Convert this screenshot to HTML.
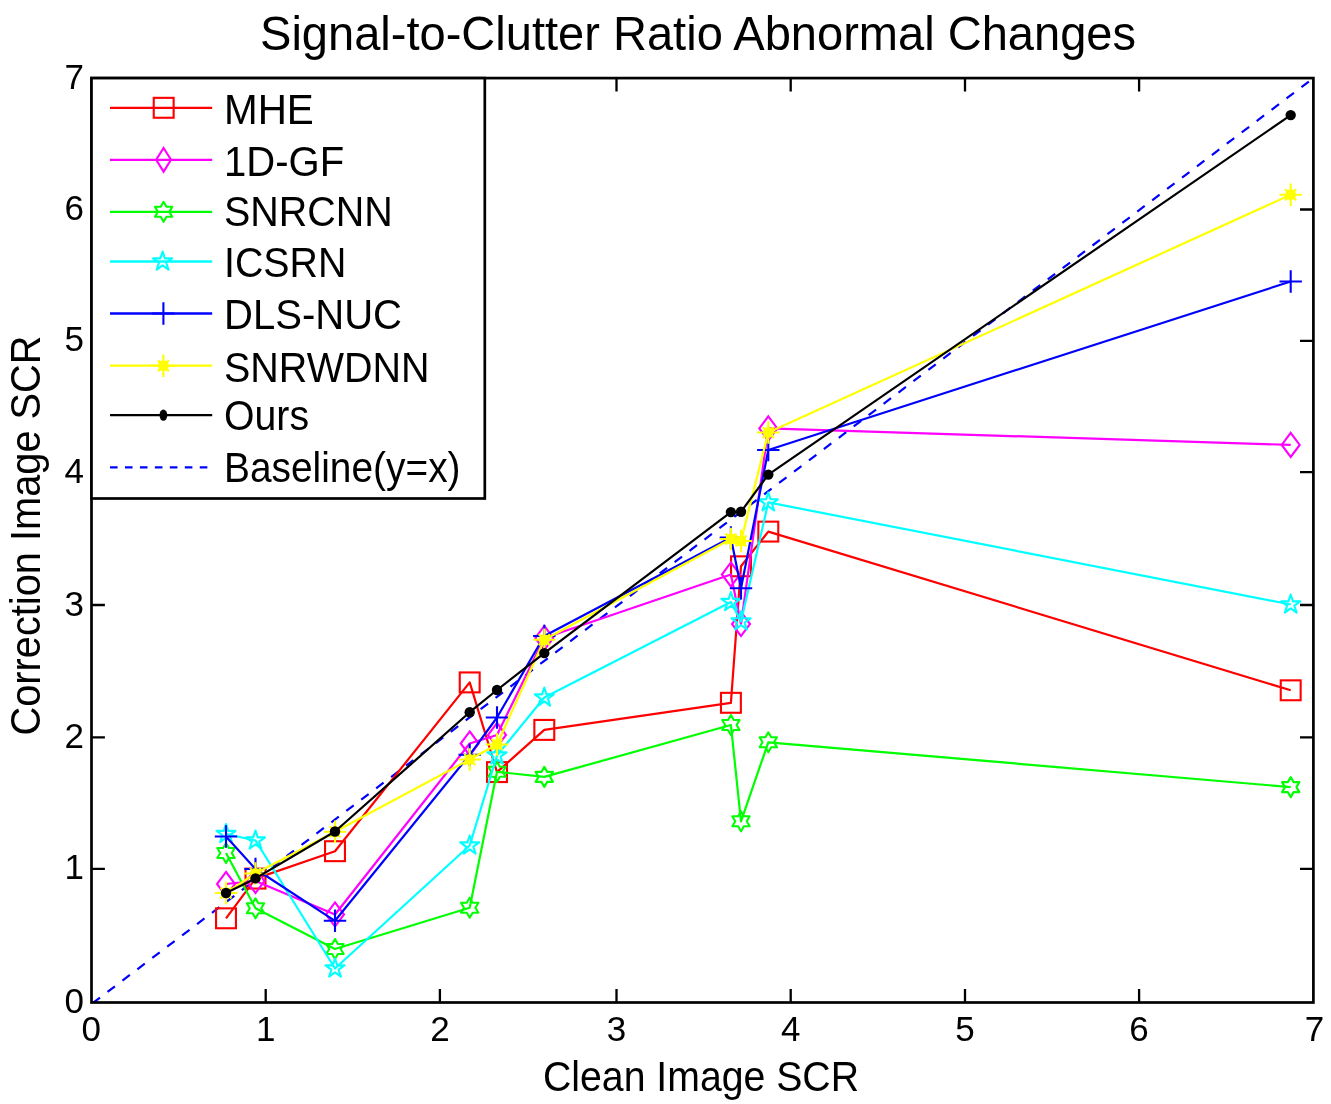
<!DOCTYPE html>
<html><head><meta charset="utf-8"><title>Signal-to-Clutter Ratio Abnormal Changes</title>
<style>
html,body{margin:0;padding:0;background:#fff;width:1331px;height:1104px;overflow:hidden}
svg{display:block}
text{font-family:"Liberation Sans", Arial, Helvetica, sans-serif;fill:#000}
</style></head><body>
<svg width="1331" height="1104" viewBox="0 0 1331 1104">
<rect width="1331" height="1104" fill="#fff"/>
<text x="260" y="50.1" font-size="48" textLength="876" lengthAdjust="spacingAndGlyphs">Signal-to-Clutter Ratio Abnormal Changes</text>
<text x="543" y="1090.6" font-size="42.5" textLength="316" lengthAdjust="spacingAndGlyphs">Clean Image SCR</text>
<text transform="translate(40.3,735.5) rotate(-90)" x="0" y="0" font-size="42.5" textLength="400" lengthAdjust="spacingAndGlyphs">Correction Image SCR</text>
<text x="91.16" y="1041" font-size="35" text-anchor="middle">0</text>
<text x="265.7" y="1041" font-size="35" text-anchor="middle">1</text>
<text x="439.9" y="1041" font-size="35" text-anchor="middle">2</text>
<text x="616.5" y="1041" font-size="35" text-anchor="middle">3</text>
<text x="790.7" y="1041" font-size="35" text-anchor="middle">4</text>
<text x="965" y="1041" font-size="35" text-anchor="middle">5</text>
<text x="1139.1" y="1041" font-size="35" text-anchor="middle">6</text>
<text x="1314.48" y="1041" font-size="35" text-anchor="middle">7</text>
<text x="84" y="1013.2" font-size="35" text-anchor="end">0</text>
<text x="84" y="879.3" font-size="35" text-anchor="end">1</text>
<text x="84" y="748.2" font-size="35" text-anchor="end">2</text>
<text x="84" y="616.3" font-size="35" text-anchor="end">3</text>
<text x="84" y="482.5" font-size="35" text-anchor="end">4</text>
<text x="84" y="351.4" font-size="35" text-anchor="end">5</text>
<text x="84" y="220.3" font-size="35" text-anchor="end">6</text>
<text x="84" y="88.5" font-size="35" text-anchor="end">7</text>
<defs><clipPath id="ax"><rect x="91.5" y="78.1" width="1221.9" height="924.4"/></clipPath></defs>
<g clip-path="url(#ax)"><line x1="92.6" y1="1003.23" x2="1314.5" y2="77.27" stroke="#0000ff" stroke-width="2.2" stroke-dasharray="9.3 9.425"/></g>
<polyline points="226,918.3 255.5,878.6 335,851.2 469.7,682.4 497,772.1 544.3,729.9 730.9,702.8 741,566.3 768.3,531.6 1290.7,690.3" fill="none" stroke="#ff0000" stroke-width="2.2" stroke-linejoin="round"/>
<rect x="216.05" y="908.35" width="19.9" height="19.9" fill="none" stroke="#ff0000" stroke-width="2.1"/>
<rect x="245.55" y="868.65" width="19.9" height="19.9" fill="none" stroke="#ff0000" stroke-width="2.1"/>
<rect x="325.05" y="841.25" width="19.9" height="19.9" fill="none" stroke="#ff0000" stroke-width="2.1"/>
<rect x="459.75" y="672.45" width="19.9" height="19.9" fill="none" stroke="#ff0000" stroke-width="2.1"/>
<rect x="487.05" y="762.15" width="19.9" height="19.9" fill="none" stroke="#ff0000" stroke-width="2.1"/>
<rect x="534.35" y="719.95" width="19.9" height="19.9" fill="none" stroke="#ff0000" stroke-width="2.1"/>
<rect x="720.95" y="692.85" width="19.9" height="19.9" fill="none" stroke="#ff0000" stroke-width="2.1"/>
<rect x="731.05" y="556.35" width="19.9" height="19.9" fill="none" stroke="#ff0000" stroke-width="2.1"/>
<rect x="758.35" y="521.65" width="19.9" height="19.9" fill="none" stroke="#ff0000" stroke-width="2.1"/>
<rect x="1280.75" y="680.35" width="19.9" height="19.9" fill="none" stroke="#ff0000" stroke-width="2.1"/>
<polyline points="226,884 255.5,881 335,914.5 469.7,743.5 497,735 544.3,638 730.9,574.5 741,624 768.3,428.4 1290.7,444.9" fill="none" stroke="#ff00ff" stroke-width="2.2" stroke-linejoin="round"/>
<polygon points="226,871.9 235,884 226,896.1 217,884" fill="none" stroke="#ff00ff" stroke-width="2.1"/>
<polygon points="255.5,868.9 264.5,881 255.5,893.1 246.5,881" fill="none" stroke="#ff00ff" stroke-width="2.1"/>
<polygon points="335,902.4 344,914.5 335,926.6 326,914.5" fill="none" stroke="#ff00ff" stroke-width="2.1"/>
<polygon points="469.7,731.4 478.7,743.5 469.7,755.6 460.7,743.5" fill="none" stroke="#ff00ff" stroke-width="2.1"/>
<polygon points="497,722.9 506,735 497,747.1 488,735" fill="none" stroke="#ff00ff" stroke-width="2.1"/>
<polygon points="544.3,625.9 553.3,638 544.3,650.1 535.3,638" fill="none" stroke="#ff00ff" stroke-width="2.1"/>
<polygon points="730.9,562.4 739.9,574.5 730.9,586.6 721.9,574.5" fill="none" stroke="#ff00ff" stroke-width="2.1"/>
<polygon points="741,611.9 750,624 741,636.1 732,624" fill="none" stroke="#ff00ff" stroke-width="2.1"/>
<polygon points="768.3,416.3 777.3,428.4 768.3,440.5 759.3,428.4" fill="none" stroke="#ff00ff" stroke-width="2.1"/>
<polygon points="1290.7,432.8 1299.7,444.9 1290.7,457 1281.7,444.9" fill="none" stroke="#ff00ff" stroke-width="2.1"/>
<polyline points="226,853 255.5,908.3 335,949 469.7,907.7 497,771.8 544.3,776.9 730.9,725 741,821.3 768.3,742.3 1290.7,787.1" fill="none" stroke="#00ff00" stroke-width="2.2" stroke-linejoin="round"/>
<polygon points="226,843 228.89,848 234.66,848 231.77,853 234.66,858 228.89,858 226,863 223.11,858 217.34,858 220.23,853 217.34,848 223.11,848" fill="none" stroke="#00ff00" stroke-width="2.1" stroke-linejoin="round"/>
<polygon points="255.5,898.3 258.39,903.3 264.16,903.3 261.27,908.3 264.16,913.3 258.39,913.3 255.5,918.3 252.61,913.3 246.84,913.3 249.73,908.3 246.84,903.3 252.61,903.3" fill="none" stroke="#00ff00" stroke-width="2.1" stroke-linejoin="round"/>
<polygon points="335,939 337.89,944 343.66,944 340.77,949 343.66,954 337.89,954 335,959 332.11,954 326.34,954 329.23,949 326.34,944 332.11,944" fill="none" stroke="#00ff00" stroke-width="2.1" stroke-linejoin="round"/>
<polygon points="469.7,897.7 472.59,902.7 478.36,902.7 475.47,907.7 478.36,912.7 472.59,912.7 469.7,917.7 466.81,912.7 461.04,912.7 463.93,907.7 461.04,902.7 466.81,902.7" fill="none" stroke="#00ff00" stroke-width="2.1" stroke-linejoin="round"/>
<polygon points="497,761.8 499.89,766.8 505.66,766.8 502.77,771.8 505.66,776.8 499.89,776.8 497,781.8 494.11,776.8 488.34,776.8 491.23,771.8 488.34,766.8 494.11,766.8" fill="none" stroke="#00ff00" stroke-width="2.1" stroke-linejoin="round"/>
<polygon points="544.3,766.9 547.19,771.9 552.96,771.9 550.07,776.9 552.96,781.9 547.19,781.9 544.3,786.9 541.41,781.9 535.64,781.9 538.53,776.9 535.64,771.9 541.41,771.9" fill="none" stroke="#00ff00" stroke-width="2.1" stroke-linejoin="round"/>
<polygon points="730.9,715 733.79,720 739.56,720 736.67,725 739.56,730 733.79,730 730.9,735 728.01,730 722.24,730 725.13,725 722.24,720 728.01,720" fill="none" stroke="#00ff00" stroke-width="2.1" stroke-linejoin="round"/>
<polygon points="741,811.3 743.89,816.3 749.66,816.3 746.77,821.3 749.66,826.3 743.89,826.3 741,831.3 738.11,826.3 732.34,826.3 735.23,821.3 732.34,816.3 738.11,816.3" fill="none" stroke="#00ff00" stroke-width="2.1" stroke-linejoin="round"/>
<polygon points="768.3,732.3 771.19,737.3 776.96,737.3 774.07,742.3 776.96,747.3 771.19,747.3 768.3,752.3 765.41,747.3 759.64,747.3 762.53,742.3 759.64,737.3 765.41,737.3" fill="none" stroke="#00ff00" stroke-width="2.1" stroke-linejoin="round"/>
<polygon points="1290.7,777.1 1293.59,782.1 1299.36,782.1 1296.47,787.1 1299.36,792.1 1293.59,792.1 1290.7,797.1 1287.81,792.1 1282.04,792.1 1284.93,787.1 1282.04,782.1 1287.81,782.1" fill="none" stroke="#00ff00" stroke-width="2.1" stroke-linejoin="round"/>
<polyline points="226,834 255.5,840.5 335,968.5 469.7,845.5 497,755.5 544.3,697.5 730.9,602 741,621.4 768.3,502.4 1290.7,604.5" fill="none" stroke="#00ffff" stroke-width="2.2" stroke-linejoin="round"/>
<polygon points="226,824 228.25,830.91 235.51,830.91 229.63,835.18 231.88,842.09 226,837.82 220.12,842.09 222.37,835.18 216.49,830.91 223.75,830.91" fill="none" stroke="#00ffff" stroke-width="2.1" stroke-linejoin="round"/>
<polygon points="255.5,830.5 257.75,837.41 265.01,837.41 259.13,841.68 261.38,848.59 255.5,844.32 249.62,848.59 251.87,841.68 245.99,837.41 253.25,837.41" fill="none" stroke="#00ffff" stroke-width="2.1" stroke-linejoin="round"/>
<polygon points="335,958.5 337.25,965.41 344.51,965.41 338.63,969.68 340.88,976.59 335,972.32 329.12,976.59 331.37,969.68 325.49,965.41 332.75,965.41" fill="none" stroke="#00ffff" stroke-width="2.1" stroke-linejoin="round"/>
<polygon points="469.7,835.5 471.95,842.41 479.21,842.41 473.33,846.68 475.58,853.59 469.7,849.32 463.82,853.59 466.07,846.68 460.19,842.41 467.45,842.41" fill="none" stroke="#00ffff" stroke-width="2.1" stroke-linejoin="round"/>
<polygon points="497,745.5 499.25,752.41 506.51,752.41 500.63,756.68 502.88,763.59 497,759.32 491.12,763.59 493.37,756.68 487.49,752.41 494.75,752.41" fill="none" stroke="#00ffff" stroke-width="2.1" stroke-linejoin="round"/>
<polygon points="544.3,687.5 546.55,694.41 553.81,694.41 547.93,698.68 550.18,705.59 544.3,701.32 538.42,705.59 540.67,698.68 534.79,694.41 542.05,694.41" fill="none" stroke="#00ffff" stroke-width="2.1" stroke-linejoin="round"/>
<polygon points="730.9,592 733.15,598.91 740.41,598.91 734.53,603.18 736.78,610.09 730.9,605.82 725.02,610.09 727.27,603.18 721.39,598.91 728.65,598.91" fill="none" stroke="#00ffff" stroke-width="2.1" stroke-linejoin="round"/>
<polygon points="741,611.4 743.25,618.31 750.51,618.31 744.63,622.58 746.88,629.49 741,625.22 735.12,629.49 737.37,622.58 731.49,618.31 738.75,618.31" fill="none" stroke="#00ffff" stroke-width="2.1" stroke-linejoin="round"/>
<polygon points="768.3,492.4 770.55,499.31 777.81,499.31 771.93,503.58 774.18,510.49 768.3,506.22 762.42,510.49 764.67,503.58 758.79,499.31 766.05,499.31" fill="none" stroke="#00ffff" stroke-width="2.1" stroke-linejoin="round"/>
<polygon points="1290.7,594.5 1292.95,601.41 1300.21,601.41 1294.33,605.68 1296.58,612.59 1290.7,608.32 1284.82,612.59 1287.07,605.68 1281.19,601.41 1288.45,601.41" fill="none" stroke="#00ffff" stroke-width="2.1" stroke-linejoin="round"/>
<polyline points="226,836.5 255.5,869 335,920.8 469.7,754.8 497,717.5 544.3,636 730.9,537.5 741,588.3 768.3,450 1290.7,281.5" fill="none" stroke="#0000ff" stroke-width="2.2" stroke-linejoin="round"/>
<path d="M214.8 836.5H237.2M226 825.3V847.7" stroke="#0000ff" stroke-width="2.1" fill="none"/>
<path d="M244.3 869H266.7M255.5 857.8V880.2" stroke="#0000ff" stroke-width="2.1" fill="none"/>
<path d="M323.8 920.8H346.2M335 909.6V932" stroke="#0000ff" stroke-width="2.1" fill="none"/>
<path d="M458.5 754.8H480.9M469.7 743.6V766" stroke="#0000ff" stroke-width="2.1" fill="none"/>
<path d="M485.8 717.5H508.2M497 706.3V728.7" stroke="#0000ff" stroke-width="2.1" fill="none"/>
<path d="M533.1 636H555.5M544.3 624.8V647.2" stroke="#0000ff" stroke-width="2.1" fill="none"/>
<path d="M719.7 537.5H742.1M730.9 526.3V548.7" stroke="#0000ff" stroke-width="2.1" fill="none"/>
<path d="M729.8 588.3H752.2M741 577.1V599.5" stroke="#0000ff" stroke-width="2.1" fill="none"/>
<path d="M757.1 450H779.5M768.3 438.8V461.2" stroke="#0000ff" stroke-width="2.1" fill="none"/>
<path d="M1279.5 281.5H1301.9M1290.7 270.3V292.7" stroke="#0000ff" stroke-width="2.1" fill="none"/>
<polyline points="226,893 255.5,873.5 335,831.8 469.7,759.5 497,744.5 544.3,639.8 730.9,539 741,541 768.3,432.5 1290.7,194.7" fill="none" stroke="#ffff00" stroke-width="2.2" stroke-linejoin="round"/>
<path d="M214.8 893H237.2M226 881.8V904.2M220.5 887.5L231.5 898.5M220.5 898.5L231.5 887.5" stroke="#ffff00" stroke-width="2.1" fill="none"/>
<rect x="221" y="890" width="10" height="6" fill="#ffff00"/>
<rect x="223" y="888" width="6" height="10" fill="#ffff00"/>
<path d="M244.3 873.5H266.7M255.5 862.3V884.7M250 868L261 879M250 879L261 868" stroke="#ffff00" stroke-width="2.1" fill="none"/>
<rect x="250.5" y="870.5" width="10" height="6" fill="#ffff00"/>
<rect x="252.5" y="868.5" width="6" height="10" fill="#ffff00"/>
<path d="M323.8 831.8H346.2M335 820.6V843M329.5 826.3L340.5 837.3M329.5 837.3L340.5 826.3" stroke="#ffff00" stroke-width="2.1" fill="none"/>
<rect x="330" y="828.8" width="10" height="6" fill="#ffff00"/>
<rect x="332" y="826.8" width="6" height="10" fill="#ffff00"/>
<path d="M458.5 759.5H480.9M469.7 748.3V770.7M464.2 754L475.2 765M464.2 765L475.2 754" stroke="#ffff00" stroke-width="2.1" fill="none"/>
<rect x="464.7" y="756.5" width="10" height="6" fill="#ffff00"/>
<rect x="466.7" y="754.5" width="6" height="10" fill="#ffff00"/>
<path d="M485.8 744.5H508.2M497 733.3V755.7M491.5 739L502.5 750M491.5 750L502.5 739" stroke="#ffff00" stroke-width="2.1" fill="none"/>
<rect x="492" y="741.5" width="10" height="6" fill="#ffff00"/>
<rect x="494" y="739.5" width="6" height="10" fill="#ffff00"/>
<path d="M533.1 639.8H555.5M544.3 628.6V651M538.8 634.3L549.8 645.3M538.8 645.3L549.8 634.3" stroke="#ffff00" stroke-width="2.1" fill="none"/>
<rect x="539.3" y="636.8" width="10" height="6" fill="#ffff00"/>
<rect x="541.3" y="634.8" width="6" height="10" fill="#ffff00"/>
<path d="M719.7 539H742.1M730.9 527.8V550.2M725.4 533.5L736.4 544.5M725.4 544.5L736.4 533.5" stroke="#ffff00" stroke-width="2.1" fill="none"/>
<rect x="725.9" y="536" width="10" height="6" fill="#ffff00"/>
<rect x="727.9" y="534" width="6" height="10" fill="#ffff00"/>
<path d="M729.8 541H752.2M741 529.8V552.2M735.5 535.5L746.5 546.5M735.5 546.5L746.5 535.5" stroke="#ffff00" stroke-width="2.1" fill="none"/>
<rect x="736" y="538" width="10" height="6" fill="#ffff00"/>
<rect x="738" y="536" width="6" height="10" fill="#ffff00"/>
<path d="M757.1 432.5H779.5M768.3 421.3V443.7M762.8 427L773.8 438M762.8 438L773.8 427" stroke="#ffff00" stroke-width="2.1" fill="none"/>
<rect x="763.3" y="429.5" width="10" height="6" fill="#ffff00"/>
<rect x="765.3" y="427.5" width="6" height="10" fill="#ffff00"/>
<path d="M1279.5 194.7H1301.9M1290.7 183.5V205.9M1285.2 189.2L1296.2 200.2M1285.2 200.2L1296.2 189.2" stroke="#ffff00" stroke-width="2.1" fill="none"/>
<rect x="1285.7" y="191.7" width="10" height="6" fill="#ffff00"/>
<rect x="1287.7" y="189.7" width="6" height="10" fill="#ffff00"/>
<polyline points="226,893 255.5,878.4 335,831.5 469.7,712.2 497,690 544.3,653.1 730.9,512.1 741,511.8 768.3,474.6 1290.7,115.1" fill="none" stroke="#000000" stroke-width="2.2" stroke-linejoin="round"/>
<circle cx="226" cy="893" r="5.2" fill="#000000"/>
<circle cx="255.5" cy="878.4" r="5.2" fill="#000000"/>
<circle cx="335" cy="831.5" r="5.2" fill="#000000"/>
<circle cx="469.7" cy="712.2" r="5.2" fill="#000000"/>
<circle cx="497" cy="690" r="5.2" fill="#000000"/>
<circle cx="544.3" cy="653.1" r="5.2" fill="#000000"/>
<circle cx="730.9" cy="512.1" r="5.2" fill="#000000"/>
<circle cx="741" cy="511.8" r="5.2" fill="#000000"/>
<circle cx="768.3" cy="474.6" r="5.2" fill="#000000"/>
<circle cx="1290.7" cy="115.1" r="5.2" fill="#000000"/>
<path d="M265.7 1002.5V989.1M265.7 78.1V91.5M439.9 1002.5V989.1M439.9 78.1V91.5M616.5 1002.5V989.1M616.5 78.1V91.5M790.7 1002.5V989.1M790.7 78.1V91.5M965 1002.5V989.1M965 78.1V91.5M1139.1 1002.5V989.1M1139.1 78.1V91.5M91.5 868.8H104.9M1313.4 868.8H1300M91.5 737.4H104.9M1313.4 737.4H1300M91.5 605H104.9M1313.4 605H1300M91.5 472.2H104.9M1313.4 472.2H1300M91.5 340.9H104.9M1313.4 340.9H1300M91.5 209.5H104.9M1313.4 209.5H1300" stroke="#000" stroke-width="2.3" fill="none"/>
<rect x="91.5" y="78.1" width="1221.9" height="924.4" fill="none" stroke="#000" stroke-width="2.7"/>
<rect x="91.5" y="78.1" width="393.3" height="420.4" fill="#fff" stroke="#000" stroke-width="2.7"/>
<line x1="110" y1="107.8" x2="212.2" y2="107.8" stroke="#ff0000" stroke-width="2.3"/>
<rect x="153.75" y="97.85" width="19.9" height="19.9" fill="none" stroke="#ff0000" stroke-width="2.1"/>
<text x="224" y="123.8" font-size="42.5" textLength="89.8" lengthAdjust="spacingAndGlyphs">MHE</text>
<line x1="110" y1="159.8" x2="212.2" y2="159.8" stroke="#ff00ff" stroke-width="2.3"/>
<polygon points="163.6,147.95 171,159.8 163.6,171.65 156.2,159.8" fill="none" stroke="#ff00ff" stroke-width="2.1"/>
<text x="224" y="175.6" font-size="42.5" textLength="120.2" lengthAdjust="spacingAndGlyphs">1D-GF</text>
<line x1="110" y1="211.8" x2="212.2" y2="211.8" stroke="#00ff00" stroke-width="2.3"/>
<polygon points="163.6,201.8 166.49,206.8 172.26,206.8 169.37,211.8 172.26,216.8 166.49,216.8 163.6,221.8 160.71,216.8 154.94,216.8 157.83,211.8 154.94,206.8 160.71,206.8" fill="none" stroke="#00ff00" stroke-width="2.1" stroke-linejoin="round"/>
<text x="224" y="225.5" font-size="42.5" textLength="168.6" lengthAdjust="spacingAndGlyphs">SNRCNN</text>
<line x1="110" y1="261.5" x2="212.2" y2="261.5" stroke="#00ffff" stroke-width="2.3"/>
<polygon points="162.6,251.5 164.85,258.41 172.11,258.41 166.23,262.68 168.48,269.59 162.6,265.32 156.72,269.59 158.97,262.68 153.09,258.41 160.35,258.41" fill="none" stroke="#00ffff" stroke-width="2.1" stroke-linejoin="round"/>
<text x="224" y="277.4" font-size="42.5" textLength="122.3" lengthAdjust="spacingAndGlyphs">ICSRN</text>
<line x1="110" y1="313.5" x2="212.2" y2="313.5" stroke="#0000ff" stroke-width="2.3"/>
<path d="M152.2 313.5H174.6M163.4 302.3V324.7" stroke="#0000ff" stroke-width="2.1" fill="none"/>
<text x="224" y="329.4" font-size="42.5" textLength="178" lengthAdjust="spacingAndGlyphs">DLS-NUC</text>
<line x1="110" y1="365.7" x2="212.2" y2="365.7" stroke="#ffff00" stroke-width="2.3"/>
<path d="M152.2 365.7H174.6M163.4 354.5V376.9M157.9 360.2L168.9 371.2M157.9 371.2L168.9 360.2" stroke="#ffff00" stroke-width="2.1" fill="none"/>
<rect x="158.4" y="362.7" width="10" height="6" fill="#ffff00"/>
<rect x="160.4" y="360.7" width="6" height="10" fill="#ffff00"/>
<text x="224" y="381.5" font-size="42.5" textLength="205.4" lengthAdjust="spacingAndGlyphs">SNRWDNN</text>
<line x1="110" y1="415.2" x2="212.2" y2="415.2" stroke="#000000" stroke-width="2.3"/>
<ellipse cx="163.4" cy="415.2" rx="3.9" ry="5.6" fill="#000000"/>
<text x="224" y="430.3" font-size="42.5" textLength="85" lengthAdjust="spacingAndGlyphs">Ours</text>
<line x1="110" y1="467.4" x2="207.6" y2="467.4" stroke="#0000ff" stroke-width="2.3" stroke-dasharray="7.6 7.36"/>
<text x="224" y="482.4" font-size="42.5" textLength="236.5" lengthAdjust="spacingAndGlyphs">Baseline(y=x)</text>
</svg></body></html>
